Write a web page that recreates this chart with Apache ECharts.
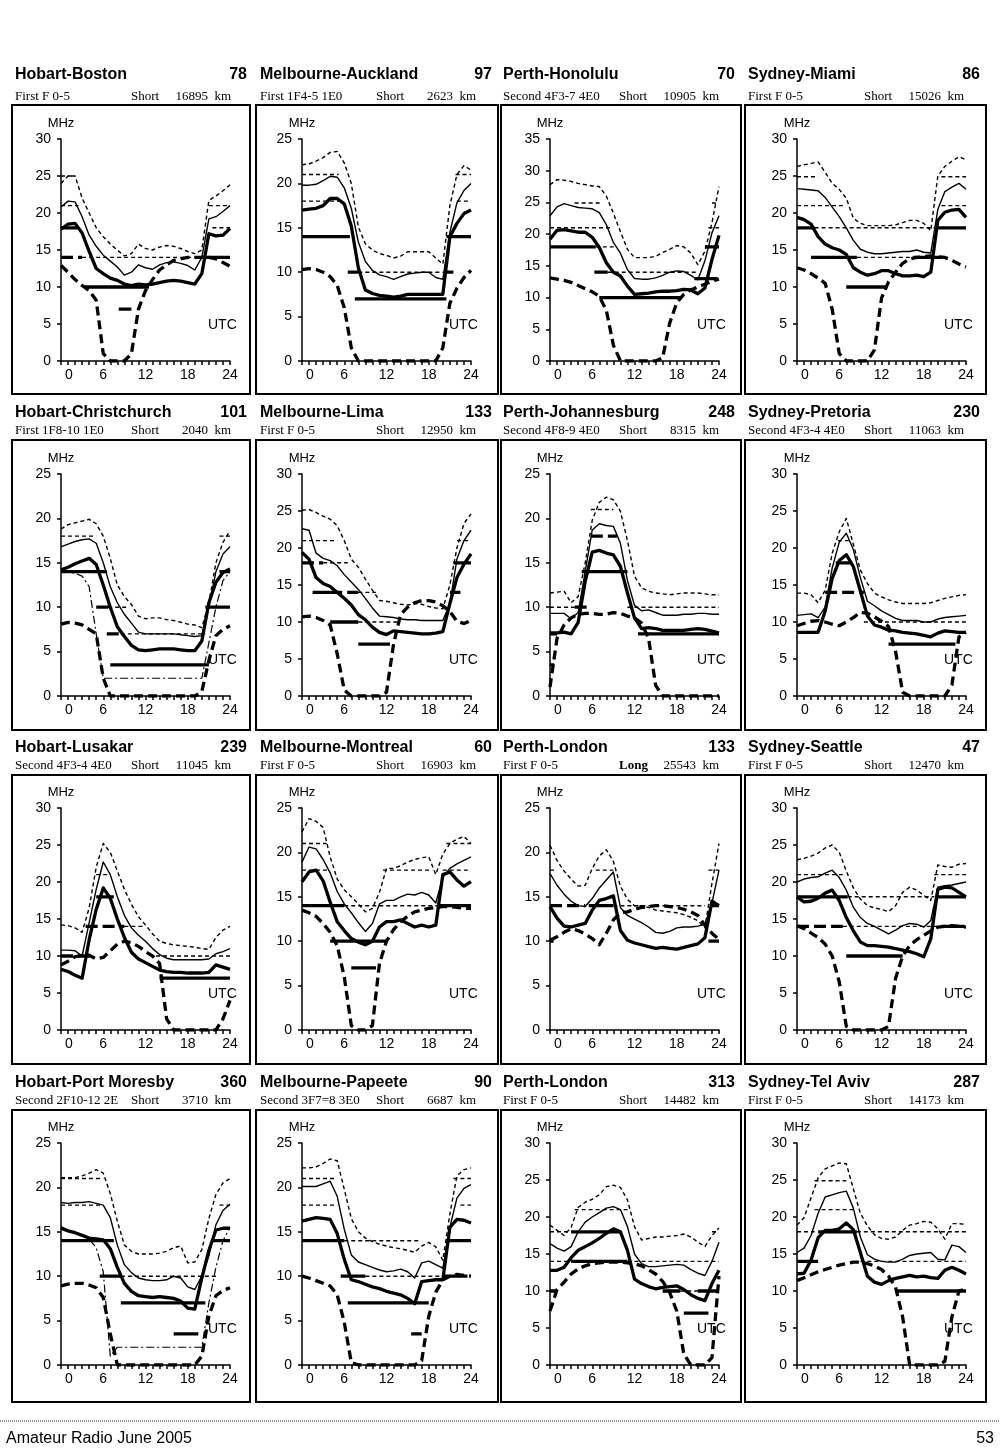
<!DOCTYPE html>
<html><head><meta charset="utf-8">
<script src="https://cdn.jsdelivr.net/npm/echarts@6/dist/echarts.min.js"></script>
<style>html,body{margin:0;padding:0;background:#fff}#c{width:1000px;height:1453px}</style>
</head><body><div id="c"></div>
<script>
// ---------- DATA ----------
const routes = ['Hobart-Boston','Melbourne-Auckland','Perth-Honolulu','Sydney-Miami',
  'Hobart-Christchurch','Melbourne-Lima','Perth-Johannesburg','Sydney-Pretoria',
  'Hobart-Lusakar','Melbourne-Montreal','Perth-London','Sydney-Seattle',
  'Hobart-Port Moresby','Melbourne-Papeete','Perth-London','Sydney-Tel Aviv'];
const bearings = [78,97,70,86,101,133,248,230,239,60,133,47,360,90,313,287];
const hopModes = ['First F 0-5','First 1F4-5 1E0','Second 4F3-7 4E0','First F 0-5',
  'First 1F8-10 1E0','First F 0-5','Second 4F8-9 4E0','Second 4F3-4 4E0',
  'Second 4F3-4 4E0','First F 0-5','First F 0-5','First F 0-5',
  'Second 2F10-12 2E','Second 3F7=8 3E0','First F 0-5','First F 0-5'];
const pathTypes = ['Short','Short','Short','Short','Short','Short','Short','Short',
  'Short','Short','Long','Short','Short','Short','Short','Short'];
const distancesKm = [16895,2623,10905,15026,2040,12950,8315,11063,11045,16903,25543,12470,3710,6687,14482,14173];
const yMax = [30,25,35,30,25,30,25,30,30,25,25,30,25,25,30,30];
const hours = [0,1,2,3,4,5,6,7,8,9,10,11,12,13,14,15,16,17,18,19,20,21,22,23,24];
const xLabels = [0,6,12,18,24];

// upper decile MUF (thin dotted)
const upperMuf = [
 [24,25,25,22,20,18,16.8,15.8,15,14.2,14.5,15.8,15.2,15,15.4,15.6,15.5,15.2,14.8,14.5,15,21.7,22.3,23,23.8],
 [22.1,22.2,22.5,22.9,23.5,23.6,22.3,20,15.1,13.2,12.5,12.1,11.9,11.6,11.8,12.3,12.3,12.3,12.3,11.6,10.9,17.5,21,22,21.5],
 [27.8,28.6,28.5,28.3,28,27.8,27.6,27.5,26,23.3,20.4,17.6,16.3,16.3,16.3,16.5,17.1,17.6,18.2,18,17,15.2,17.3,21.8,27.5],
 [26.3,26.5,26.7,26.9,25.5,24,23.2,22,19.3,18.6,18.3,18.3,18.3,18.3,18.4,18.7,19,19,18.6,17.6,25,26.3,27,27.6,27.2],
 [18.8,19.3,19.5,19.7,19.9,19.4,18,15.5,12.5,11.2,10.3,9,8.7,8.8,8.8,8.6,8.5,8.3,8.1,8,7.7,10.5,15,17.3,18.6],
 [25.1,25.2,24.8,24.3,23.9,23,21,18.5,17.4,15.8,14.3,12.9,12.8,12.6,12.4,12.3,12.5,12.4,12.1,11.9,11.8,15,20,23.3,24.6],
 [11.6,11.7,11.8,10.5,11.2,15,19.8,21.8,22.4,22.1,20.8,17.5,13.5,12.2,11.8,11.6,11.5,11.4,11.5,11.6,11.6,11.6,11.5,11.4,11.4],
 [13.9,13.9,13.7,12.6,14.3,19.3,22.2,24,20.5,17,15.2,13.9,13.4,13,12.7,12.5,12.5,12.5,12.5,12.6,12.9,13.2,13.4,13.6,13.7],
 [14.2,14.1,13.8,13.2,16.5,22,25.2,24,21.5,19,17,15.3,14.2,13,12,11.7,11.5,11.4,11.3,11.2,11,10.9,12.5,13.5,14],
 [22.3,23.8,23.5,22.8,19.5,17,15.8,15,14.2,13.3,13.7,15.5,18.2,18.2,18.5,18.9,19.2,19.4,19.5,17.5,19.8,21,21.5,21.8,21],
 [20.8,19.1,17.9,17,16.2,16.3,18.2,19.6,20.3,19,16.2,14.7,14,14,13.8,13.5,13.4,13.3,13.2,13,12.7,12.3,11.5,16.5,21],
 [23,23.2,23.5,23.9,24.6,25,24,21.5,19.2,17.7,16.8,16.5,16.3,16,16.8,18.6,19.3,18.9,18.2,17.5,22.3,22.1,22,22.4,22.5],
 [21.1,21.1,21.1,21.3,21.6,22,21.6,19.3,16.2,13.5,12.8,12.5,12.5,12.5,12.6,12.8,13.2,13.4,11.5,11.6,13,16.5,19.2,20.5,21],
 [22.2,22.2,22.3,22.7,23.2,23,19.8,16.5,15,14.3,13.9,13.6,13.4,13.2,13.1,12.9,12.7,13.4,13.8,13.3,11.8,17,21.3,22,22.2],
 [18.9,18.2,17.5,18.6,21.3,22,22.4,23,24.1,24.3,24,22.3,18.7,16.9,17.1,17.3,17.3,17.4,17.5,17.7,17.3,16.6,16,17.5,18.5],
 [18.9,19.9,22.6,25.3,26.5,26.9,27.3,27.2,23.8,20.5,18.8,17.6,17.1,17,17.3,18.2,18.9,19.1,19.4,19.3,18.4,17,19.1,19.1,19]
];
// median MUF (thin solid)
const medianMuf = [
 [20.8,21.6,21.5,19.5,17,15.5,14.3,13.5,12.7,11.6,12,13,12.6,12.4,13,13.3,13.4,13.2,12.9,12.3,14,19.2,19.5,20.2,21],
 [19.8,19.8,19.9,20.3,20.8,20.7,19.5,17.2,13.4,11.2,10.2,9.7,9.5,9.2,9.5,9.8,9.9,10,10,9.4,9.2,14.5,17.8,19.2,20],
 [22.9,24.3,24.8,24.5,24.2,24.1,24,23.4,21.5,18.7,17,14.4,13,12.9,12.9,13.1,13.5,14,14.2,14.1,13.5,12.8,15.8,20.2,22.9],
 [23.3,23.2,23.1,23,22.1,20.8,19.5,18,16.3,15.1,14.7,14.5,14.5,14.6,14.7,14.8,14.8,15,14.7,14.6,20.5,22.9,23.5,24,23.2],
 [16.8,17.1,17.4,17.6,17.7,17.2,15,12.3,10.5,9.2,8.2,7.2,7,7,7,7,7,6.9,6.8,6.7,6.8,10,14,16,16.8],
 [22.6,22.4,19.3,18.6,18.3,17.6,16.4,15.4,14.4,13.2,11.9,10.8,10.7,10.6,10.4,10.3,10.3,10.2,10.2,10.2,10.2,12.5,18.5,21,22.4],
 [9.3,9.3,9.3,8.7,9.4,14,18.7,19.4,19.2,19.1,17.2,13,10.2,9.6,9.7,9.4,9.1,9.1,9.1,9.2,9.2,9.3,9.3,9.2,9.2],
 [10.9,11,11.1,10.6,12,17.3,20.8,22,19.8,16,12.8,12.2,11.5,11,10.5,10.2,10.2,10.2,10,10,10.4,10.6,10.7,10.8,10.9],
 [10.8,10.8,10.7,10,14.5,19,22.7,21,18,15.5,13.8,12.8,12,11,10.2,9.7,9.5,9.5,9.5,9.5,9.5,9.6,10.3,10.6,11],
 [18.9,20.6,20.4,19.2,17.7,15.6,14.2,13.2,12.1,11.1,12,14.2,14.6,14.6,15,15.3,15.2,15.5,15.2,14.3,17.2,18.2,18.7,19.1,19.5],
 [17.6,16.3,15.3,14.5,14,13.9,14.8,16,16.9,17.8,13.8,12.9,12.5,12.1,11.6,11,10.9,11.1,11.5,11.6,11.6,11.7,11.9,14.3,18],
 [20,20.4,20.6,20.7,21.2,21.6,20.6,18.9,16.6,15.2,14.4,14,13.5,13,13.5,14.1,14.4,14.3,13.9,14.8,19.3,19.5,19.6,19.8,20],
 [18.3,18.2,18.3,18.3,18.4,18.2,18,16.6,13.5,11.3,10.4,9.8,9.6,9.5,9.5,9.6,10,9.8,8.8,8.5,10,12.3,15.8,17.4,18.1],
 [20.1,20.1,20.1,20.4,20.7,19,15.3,12.4,11.6,11.3,11,10.7,10.5,10.6,10.8,10.5,9.8,11.5,11.7,11.3,10.9,15.5,18.8,19.9,20.3],
 [16.4,15.8,15.4,16,18,19.3,20,20.6,21.2,21.4,21,18.7,15,13.7,13.3,13.3,13.4,13.5,13.6,13.5,12.9,12.4,12.1,14,16.6],
 [15.2,15.8,17.5,20.5,22.7,23,23.3,23.5,21.2,17.3,14.9,14.3,14,13.9,13.9,14.3,14.8,15,15.1,15.2,14.3,14.2,16.2,16,15.2]
];
// optimum working frequency (thick solid)
const optimumFreq = [
 [17.8,18.5,18.6,17.3,14.8,12.5,11.8,11.2,10.9,10.4,10.2,10.4,10.3,10.4,10.6,10.8,10.9,10.8,10.6,10.4,11.8,17.2,16.9,17,17.9],
 [17,17.1,17.2,17.5,18.3,18.3,17.7,15.2,10.5,8,7.6,7.4,7.3,7.2,7.3,7.5,7.5,7.5,7.5,7.5,7.5,14,15.5,16.6,17],
 [19.2,20.6,20.7,20.5,20.3,20.3,19.5,17.9,15.5,14,13.4,11.8,10.5,10.6,10.7,10.9,11,11,11.1,11.3,11.2,10.6,11.5,16,19.8],
 [19.4,19.1,18.5,16.8,15.8,15.3,15,14.4,12.6,12,11.6,11.8,12.2,12.2,11.8,11.5,11.5,11.6,11.4,12,19,20.1,20.4,20.5,19.4],
 [14.2,14.5,14.9,15.2,15.5,14.8,12.5,10,7.8,6.7,5.7,5.2,5.1,5.2,5.3,5.3,5.3,5.2,5.1,5.1,6.2,10.5,12.8,13.9,14.3],
 [19.4,18.5,16,15.2,14.8,14,13.2,12.3,11,10.3,9.3,8.6,8.3,8.8,8.7,8.6,8.5,8.4,8.4,8.5,8.7,12.5,16,17.8,19.2],
 [7.1,7.1,7.2,7,8.3,12.9,16.2,16.4,16.1,15.9,14.6,11.6,8.8,7.6,7.7,7.6,7.4,7.4,7.4,7.4,7.5,7.6,7.5,7.3,7.1],
 [8.6,8.6,8.6,8.6,11.5,15.9,18.3,19.1,17.5,14.2,10.8,9.6,9.3,8.9,8.8,8.6,8.5,8.4,8.2,8,8.5,8.8,8.7,8.6,8.6],
 [8.2,7.9,7.4,7,12.2,16.3,19.2,17.8,15,12.5,10.5,9.6,9.1,8.6,8.1,7.9,7.8,7.8,7.7,7.7,7.7,7.8,8.8,8.5,8.2],
 [16.7,17.8,18,16.8,14.4,12.2,11.2,10.3,9.9,9.6,10,11.6,12.2,12.2,12.4,12,11.6,11.8,11.6,11.8,17.5,17.8,16.9,16.2,16.7],
 [13.9,12.6,11.7,11.6,11.8,12,13.5,14.6,14.8,15.1,11.2,10.1,9.8,9.6,9.4,9.2,9.3,9.2,9.1,9.3,9.5,9.7,10.4,14.5,14],
 [18,17.3,17.4,17.8,18.5,18.9,17.5,15.2,13.4,11.9,11.4,11.4,11.3,11.2,11,10.8,10.6,10.3,9.9,12.3,19,19.3,19.2,18.6,18],
 [15.4,15.1,14.9,14.6,14.3,14.2,14.1,13.1,11,9.2,8.3,7.8,7.7,7.6,7.7,7.6,7.5,7.2,6.4,6.3,9.8,12.9,15.2,15.4,15.4],
 [16.2,16.4,16.6,16.5,16.4,14.8,11.9,9.6,9.4,9.1,8.8,8.6,8.3,8.1,7.9,7.5,6.9,9.4,9.5,9.6,9.6,15.5,16.4,16.3,16],
 [12.8,12.8,13.2,14.5,15.5,16,16.5,17.1,17.8,18.4,18,15.5,11.6,11,10.6,10.3,10.5,10.6,10.7,10.2,9.5,9,8.7,11,12.8],
 [12.3,12.4,14.2,17.2,18.2,18.2,18.4,19.2,18.3,15.2,12,11.2,10.9,11.4,11.7,11.9,12.1,11.9,12,11.8,11.7,12.8,13.2,12.8,12.3]
];
// lowest usable frequency (thick dashed)
const lowestUsable = [
 [12.9,12,11,10.2,9.5,8.2,1,0,0,0,1,7,9.5,11,12.3,13,13.6,13.8,14,14,14,14,13.8,13.3,12.8],
 [10.3,10.4,10.3,10,9.5,8.5,6,1.5,0,0,0,0,0,0,0,0,0,0,0,0,1.5,6.5,8.2,9.4,10.2],
 [13.1,12.9,12.7,12.4,11.9,11.4,10.9,10.2,8,2.5,0,0,0,0,0,0,0.5,6,9.2,10.5,11.2,11.7,12.1,12.6,12.9],
 [12.6,12.3,11.8,11.2,10.5,7,1,0,0,0,0,1.5,8.5,10.7,12,13.2,13.8,14,14.1,14.2,14.1,14,13.6,13.1,12.7],
 [8.1,8.3,8.2,8,7.5,7,2,0,0,0,0,0,0,0,0,0,0,0,0,0,0.5,4,6.8,7.5,7.9],
 [10.7,10.8,10.6,10.2,9.6,5.7,0.8,0,0,0,0,0,0.5,7,11,12,12.6,12.9,12.9,12.7,12.2,11.4,10.1,9.8,10.2],
 [1,6.5,8,8.8,9.2,9.3,9.3,9.2,9.2,9.4,9.3,9,8.8,8.2,6.5,1.2,0,0,0,0,0,0,0,0,0],
 [9.5,9.8,10.1,10.2,10,9.7,9.5,10,10.6,11.3,11.2,10.7,10.1,9.4,6,0.5,0,0,0,0,0,0,1.5,8,8.6],
 [8.8,9.3,9.9,10.1,10.1,9.6,9.8,10.7,11.6,12,11.8,11.3,10.6,10,9,1.5,0,0,0,0,0,0,0,1.5,4],
 [13.5,13.2,12.8,12,11,9.5,6,0.5,0,0,0.5,7.5,10,11.3,12.2,12.8,13.3,13.5,13.7,13.8,13.9,13.9,13.8,13.7,13.7],
 [10.1,10.5,11,11.4,11.2,10.8,10.3,9.6,10.9,12.4,13.2,13.3,13.6,13.8,13.9,14,14,13.9,13.8,13.6,13.3,12.9,11.8,10.9,10.2],
 [14.1,13.7,13.1,12.5,11.6,10,6.5,0.5,0,0,0,0,0,0.5,7,10,11.4,12.2,12.8,13.4,13.9,14,14.1,14,13.9],
 [8.9,9.1,9.2,9.2,9,8.7,7.6,3.5,0,0,0,0,0,0,0,0,0,0,0,0,1,5.5,7.8,8.4,8.7],
 [10,9.8,9.5,9.2,8.9,7.9,4.8,0.3,0,0,0,0,0,0,0,0,0,0.5,5.5,8.2,9.6,10,10.2,10.1,10],
 [7.3,10.2,11.2,12.3,13,13.4,13.7,13.8,13.9,13.9,13.9,13.8,13.7,13.4,12.9,12.3,11.3,9.8,7.3,1.5,0,0,0,1,12],
 [11.4,11.8,12.2,12.6,12.9,13.2,13.5,13.7,13.9,13.9,13.7,13.4,12.9,12,10.5,6.5,0,0,0,0,0,0.5,6.5,10,10.3]
];
// E-layer mode path (thin dash-dot), only on short routes
const eLayerPath = [null,null,null,null,
 [14,14,13.8,13.5,12.3,7,2,2,2,2,2,2,2,2,2,2,2,2,2,2,2,6,10,13,14],
 null,null,null,null,null,null,null,
 [15.6,15.2,14.9,14.6,14.2,13.2,10.5,1,2,2,2,2,2,2,2,2,2,2,2,2,2,7,11,14,15.5],
 null,null,null];
// amateur band openings: [reliability, MHz, fromUTC, toUTC]
const bandOpenings = [
 [['poor',25,0,2],['poor',21,0,2.5],['poor',21,21,24],['good',18,0,2.5],['poor',18,21.5,24],['fair',14,0,3],['poor',14,3,20],['good',14,20,24],['good',10,3.3,12.5],['good',7,8.2,10]],
 [['poor',21,0,5.2],['poor',21,21.8,24],['poor',18,0,5.5],['poor',18,22,24],['good',14,0,6.8],['good',14,20.5,24],['fair',10,6.5,8],['poor',10,8,20],['good',10,20.3,21.5],['good',7,7.5,20.5]],
 [['poor',24.9,3.5,7.2],['poor',24.9,23,24],['poor',21,0,8.5],['poor',21,22.5,24],['good',18,0,6.5],['poor',18,6.5,9.5],['good',18,22,24],['good',14,6.3,8.2],['poor',14,8.2,21],['good',13,20.5,23.8],['good',10,7,18.5]],
 [['poor',24.9,0,3],['poor',24.9,20.5,24],['poor',21,0,6.5],['poor',21,20.5,24],['good',18,0,2.5],['poor',18,2.5,19.5],['good',18,20,24],['good',14,2,8.5],['poor',14,8.5,16.5],['good',14,16.5,20.5],['good',10,7,12.8]],
 [['poor',18,0,5],['poor',18,22.5,24],['good',14,0,6.5],['good',14,22.5,24],['good',10,5,6.7],['poor',10,6.7,9.5],['good',10,20.5,24],['fair',7,6.5,8.5],['poor',7,8.5,20.5],['good',3.5,7,21]],
 [['poor',21,0,5],['poor',21,22,24],['fair',18,0,3],['poor',18,3,6.5],['good',18,21.5,24],['good',14,1.5,4],['fair',14,4,8],['poor',14,8,10.5],['good',14,21,22.5],['good',10,4,8],['poor',10,8,13.5],['good',7,8,12.5]],
 [['poor',21,5.8,9],['fair',18,5.8,9.5],['good',14,4.5,11],['poor',10,0,3.5],['fair',10,3.5,5.5],['poor',10,11,24],['good',7,12.5,24],['fair',7,0,1],['good',3.5,0,0.6]],
 [['poor',21,5.8,7.5],['good',18,5.5,7.8],['fair',14,4,9.5],['poor',10,9.5,24],['good',7,13,22.5]],
 [['poor',21,5,7],['good',18,5,7.5],['fair',14,3.5,9],['poor',14,9,12],['fair',10,0,4.5],['poor',10,13.5,24],['good',7,14,24]],
 [['poor',21,0,3.5],['poor',21,20.5,24],['poor',18,0,4],['poor',18,11.5,18.5],['poor',18,20,24],['good',14,0,6],['poor',14,6,19.5],['good',14,19.5,24],['good',10,4,12],['good',7,7,10.5]],
 [['poor',18,0,1],['poor',18,6.5,9],['poor',18,22.5,24],['fair',14,0,5],['good',14,5.5,9],['poor',14,9,22],['good',14,22.8,24],['good',10,0,0.5],['good',10,22.5,24]],
 [['poor',21,0,6.5],['poor',21,19.5,24],['good',18,0,7.2],['poor',18,7.2,19.5],['good',18,20,24],['fair',14,0,6.5],['poor',14,6.5,20.5],['good',14,20.5,23.8],['good',10,7,15]],
 [['poor',21,0,6],['poor',18,0,6],['poor',18,22.5,24],['good',14,0,7.5],['good',14,21.5,24],['good',10,5.5,8.5],['poor',10,8.5,22],['good',7,8.5,20.5],['good',3.5,16,19.5]],
 [['poor',21,0,5],['poor',21,21.5,24],['poor',18,0,5],['poor',18,22.5,24],['good',14,0,6],['poor',14,6,16.5],['good',14,20.5,24],['good',10,5.5,9],['poor',10,9,20],['good',10,20,23.5],['good',7,6.5,18],['good',3.5,15.5,17]],
 [['poor',21,3.5,11],['poor',18,0,3],['good',18,3,10],['poor',18,23,24],['poor',14,0,3],['good',14,3,11],['poor',14,11,24],['good',10,0,1],['good',10,16,18.5],['poor',10,18.5,21],['good',10,21,24],['good',7,19,22.5]],
 [['poor',24.9,2.5,7],['poor',21,2.5,8],['poor',18,0,2.5],['good',18,3,8.5],['poor',18,8.5,24],['good',14,0,3],['poor',14,9,24],['good',10,14,24]]
];

// ---------- LAYOUT ----------
const SANS = '"Liberation Sans", Arial, sans-serif';
const SERIF = '"Liberation Serif", "Times New Roman", serif';
const colLeft = [12, 256, 501, 745], boxW = [238, 242, 240, 241];
const rowTop = [105, 440, 775, 1110], boxH = [289, 290, 289, 292];
const axisX = [61, 302, 550, 797], plotW = 169;
const plotTop = [139, 474, 808, 1143], plotH = 222;
const nameX = [15, 260, 503, 748];
const titleY = [75, 413, 748, 1083], subY = [97, 431, 766, 1101];

const curveStyle = {
  upper: {width: 1.4, type: [4, 3]},
  median: {width: 1.4, type: 'solid'},
  optimum: {width: 3.3, type: 'solid'},
  luf: {width: 3.3, type: [9, 5]},
  elayer: {width: 1.2, type: [8, 3, 2, 3]}
};
const bandStyle = {
  good: {width: 3.3, type: 'solid'},
  fair: {width: 3.3, type: [12, 5]},
  poor: {width: 1.4, type: [4, 3]}
};

const grids = [], xAxes = [], yAxes = [], series = [], graphics = [];
const axisLine = {show: true, onZero: false, lineStyle: {color: '#000', width: 1.5}};

function curve(vals) { return hours.map((h, k) => [h, vals[k]]); }
function bandSeg(list, q) {
  const d = [];
  list.filter(b => b[0] === q).forEach(b => {
    if (d.length) d.push([b[2], '-']);
    d.push([b[2], b[1]], [b[3], b[1]]);
  });
  return d;
}

for (let i = 0; i < 16; i++) {
  const r = Math.floor(i / 4), c = i % 4;
  grids.push({left: axisX[c], top: plotTop[r], width: plotW, height: plotH});
  const xBase = {gridIndex: i, type: 'value', min: 0, max: 24, interval: 1, splitLine: {show: false}};
  xAxes.push(Object.assign({}, xBase, {
    axisLine: axisLine,
    axisTick: {show: true, length: 4, lineStyle: {color: '#000', width: 1.5}},
    axisLabel: {
      customValues: xLabels, margin: 7, color: '#000', fontSize: 14, fontFamily: SANS,
      formatter: v => v === 0 ? '{z|0}' : String(v),
      rich: {z: {padding: [0, 0, 0, 16], fontSize: 14, fontFamily: SANS, color: '#000'}}
    }
  }));
  xAxes.push(Object.assign({}, xBase, {
    axisLine: {show: false},
    axisTick: {show: true, inside: true, length: 4, lineStyle: {color: '#000', width: 1.5}},
    axisLabel: {show: false}
  }));
  const yBase = {gridIndex: i, type: 'value', min: 0, max: yMax[i], interval: 5, splitLine: {show: false}};
  yAxes.push(Object.assign({}, yBase, {
    name: 'MHz', nameLocation: 'end', nameGap: 9,
    nameTextStyle: {color: '#000', fontSize: 13, fontFamily: SANS, align: 'center'},
    axisLine: axisLine,
    axisTick: {show: true, length: 4, lineStyle: {color: '#000', width: 1.5}},
    axisLabel: {margin: 10, color: '#000', fontSize: 14, fontFamily: SANS}
  }));
  yAxes.push(Object.assign({}, yBase, {
    axisLine: {show: false},
    axisTick: {show: true, inside: true, length: 4, lineStyle: {color: '#000', width: 1.5}},
    axisLabel: {show: false}
  }));

  const base = {type: 'line', xAxisIndex: 2 * i, yAxisIndex: 2 * i, symbol: 'none',
    showSymbol: false, silent: true, animation: false, connectNulls: false};
  ['good', 'fair', 'poor'].forEach(q => {
    series.push(Object.assign({}, base, {
      data: bandSeg(bandOpenings[i], q),
      lineStyle: Object.assign({color: '#000', cap: 'butt'}, bandStyle[q])
    }));
  });
  const curves = [['upper', upperMuf[i]], ['median', medianMuf[i]], ['optimum', optimumFreq[i]],
    ['luf', lowestUsable[i]], ['elayer', eLayerPath[i]]];
  curves.forEach(([k, vals]) => {
    if (!vals) return;
    series.push(Object.assign({}, base, {
      data: curve(vals),
      lineStyle: Object.assign({color: '#000', join: 'round'}, curveStyle[k])
    }));
  });

  // panel box
  graphics.push({type: 'rect', silent: true, z: 1,
    shape: {x: colLeft[c], y: rowTop[r], width: boxW[c], height: boxH[r]},
    style: {fill: 'none', stroke: '#000', lineWidth: 2}});
  // titles
  const tx = nameX[c];
  const txt = (x, y, text, font, align) => graphics.push({type: 'text', silent: true, x: x, y: y,
    style: {text: text, font: font, fill: '#000', textAlign: align, align: align,
      textVerticalAlign: 'middle', verticalAlign: 'middle'}});
  txt(tx, titleY[r], routes[i], 'bold 16px ' + SANS, 'left');
  txt(tx + 232, titleY[r], String(bearings[i]), 'bold 16px ' + SANS, 'right');
  txt(tx, subY[r], hopModes[i], '13px ' + SERIF, 'left');
  txt(tx + 116, subY[r], pathTypes[i], (pathTypes[i] === 'Long' ? 'bold ' : '') + '13px ' + SERIF, 'left');
  txt(tx + 216, subY[r], distancesKm[i] + '  km', '13px ' + SERIF, 'right');
  // UTC label
  txt(axisX[c] + 147, plotTop[r] + plotH - 36, 'UTC', '14px ' + SANS, 'left');
}

// footer
graphics.push({type: 'line', silent: true, shape: {x1: 0, y1: 1421, x2: 1000, y2: 1421},
  style: {stroke: '#666', lineWidth: 1.5, lineDash: [1, 1]}});
graphics.push({type: 'text', silent: true, x: 6, y: 1439,
  style: {text: 'Amateur Radio June 2005', font: '16px ' + SANS, fill: '#000',
    textAlign: 'left', align: 'left', textVerticalAlign: 'middle', verticalAlign: 'middle'}});
graphics.push({type: 'text', silent: true, x: 994, y: 1439,
  style: {text: '53', font: '16px ' + SANS, fill: '#000',
    textAlign: 'right', align: 'right', textVerticalAlign: 'middle', verticalAlign: 'middle'}});

const chart = echarts.init(document.getElementById('c'), null, {renderer: 'canvas'});
chart.setOption({
  backgroundColor: '#fff',
  animation: false,
  grid: grids,
  xAxis: xAxes,
  yAxis: yAxes,
  series: series,
  graphic: {elements: graphics}
});
</script>
</body></html>
